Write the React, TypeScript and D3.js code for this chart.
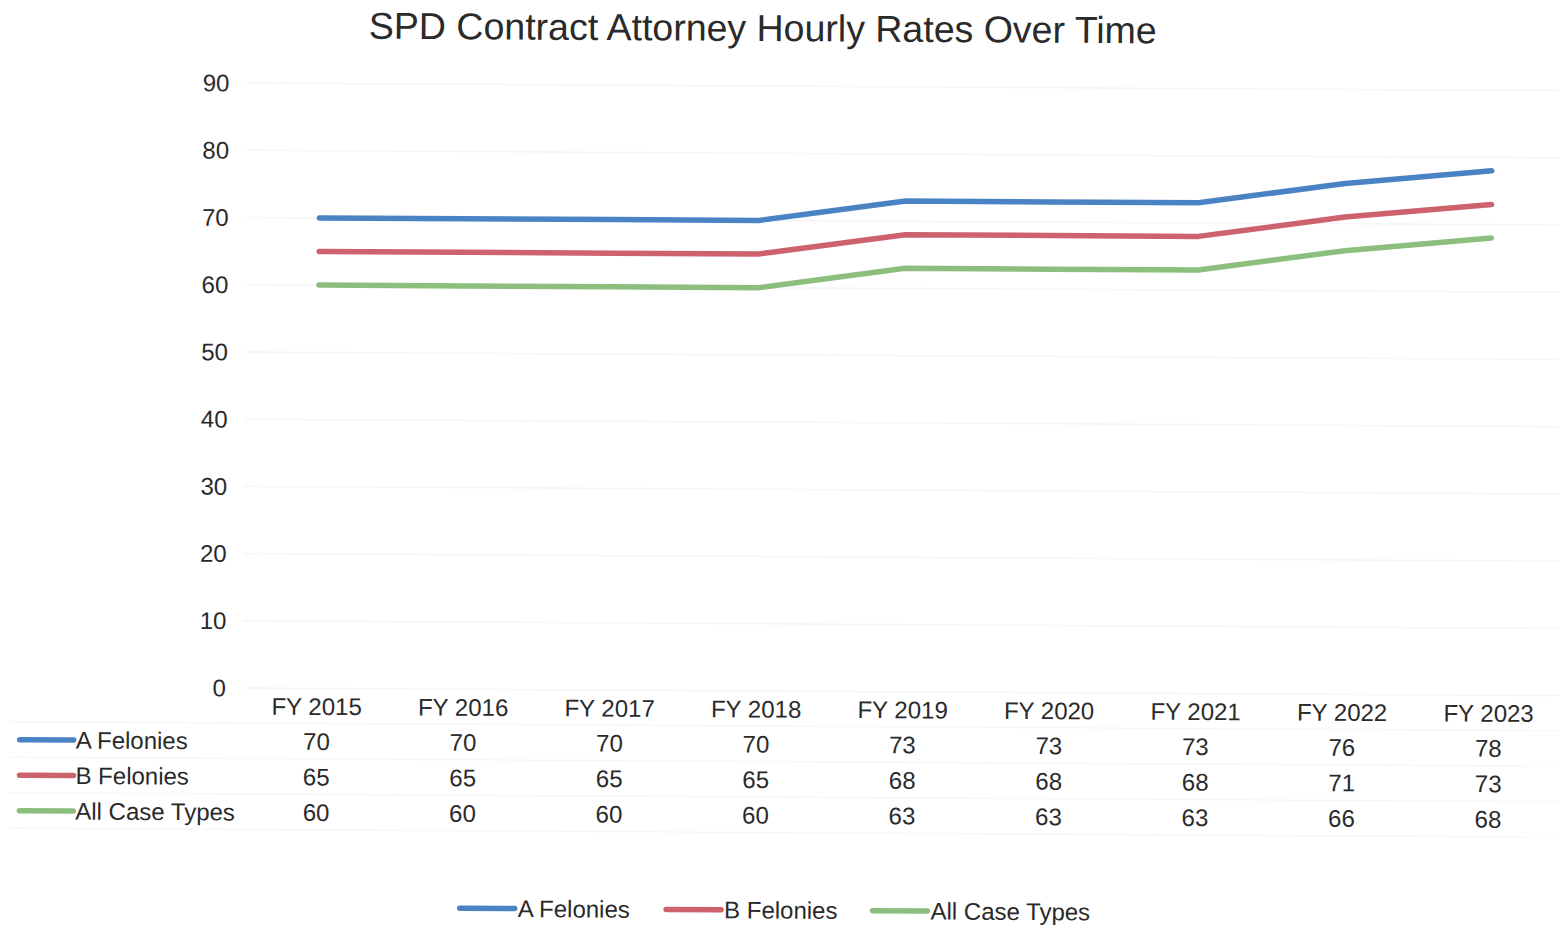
import * as d3 from 'd3';
import { useMemo } from 'react';

const years = ['FY 2015', 'FY 2016', 'FY 2017', 'FY 2018', 'FY 2019', 'FY 2020', 'FY 2021', 'FY 2022', 'FY 2023'];
const aFelonies = [70, 70, 70, 70, 73, 73, 73, 76, 78];
const bFelonies = [65, 65, 65, 65, 68, 68, 68, 71, 73];
const allCaseTypes = [60, 60, 60, 60, 63, 63, 63, 66, 68];
const yTicks = [0, 10, 20, 30, 40, 50, 60, 70, 80, 90];

const seriesList = [
  { name: 'A Felonies', values: aFelonies, color: '#4a83c3' },
  { name: 'B Felonies', values: bFelonies, color: '#cd626d' },
  { name: 'All Case Types', values: allCaseTypes, color: '#8cbf7e' },
];

const W = 1558;
const H = 925;
const FONT = '"Liberation Sans", Arial, sans-serif';

// measure text once with a canvas so the legend can be laid out from it
function textWidth(s: string, size: number) {
  const c = document.createElement('canvas').getContext('2d');
  if (!c) return s.length * size * 0.55;
  c.font = `${size}px "Liberation Sans", Arial`;
  return c.measureText(s).width;
}

export default function App() {
  const x = useMemo(
    () => d3.scaleBand().domain(years).range([243.5, 243.5 + 146.5 * years.length]),
    []
  );
  const y = useMemo(() => d3.scaleLinear().domain([0, 90]).range([688, 83]), []);

  const line = d3
    .line<number>()
    .x((_, i) => (x(years[i]) ?? 0) + x.bandwidth() / 2)
    .y((d) => y(d));

  // data table rows
  const headerY = 706;
  const rowY = (i: number) => 741 + i * 35.5;

  // bottom legend
  const keyLen = 57;
  const gap = 33;
  const legendItems = seriesList.map((s) => ({ ...s, w: keyLen + 3 + textWidth(s.name, 24) }));
  let lx = 460;
  const legendPos = legendItems.map((it) => {
    const p = lx;
    lx += it.w + gap;
    return p;
  });

  return (
    <svg
      width={W}
      height={H}
      style={{ position: 'absolute', left: 0, top: 0, background: '#fff' }}
      fontFamily={FONT}
    >
      <rect width={W} height={H} fill="#fff" />
      <g transform="rotate(0.33 243 688)">
        <text x={759} y={38} textAnchor="middle" fontSize={37.5} fill="#2a2a2a">
          SPD Contract Attorney Hourly Rates Over Time
        </text>

        {yTicks.map((t) => (
          <g key={t}>
            <line x1={243} x2={W + 20} y1={y(t)} y2={y(t)} stroke="#f5f5f5" strokeWidth={1.5} />
            <text x={226} y={y(t) + 8.5} textAnchor="end" fontSize={24} fill="#2a2a2a">
              {t}
            </text>
          </g>
        ))}

        {seriesList.map((s) => (
          <path
            key={s.name}
            d={line(s.values) ?? undefined}
            fill="none"
            stroke={s.color}
            strokeWidth={5.5}
            strokeLinecap="round"
            strokeLinejoin="round"
          />
        ))}

        {/* data table */}
        {[723, 758.5, 794, 829.5].map((ly) => (
          <line key={ly} x1={10} x2={W + 20} y1={ly} y2={ly} stroke="#f7f7f7" strokeWidth={1.5} />
        ))}
        {years.map((yr) => (
          <text
            key={yr}
            x={(x(yr) ?? 0) + x.bandwidth() / 2}
            y={headerY + 8.5}
            textAnchor="middle"
            fontSize={24}
            fill="#2a2a2a"
          >
            {yr}
          </text>
        ))}
        {seriesList.map((s, i) => (
          <g key={s.name}>
            <line x1={20} x2={74} y1={rowY(i)} y2={rowY(i)} stroke={s.color} strokeWidth={5.5} strokeLinecap="round" />
            <text x={76} y={rowY(i) + 8.5} fontSize={24} fill="#2a2a2a">
              {s.name}
            </text>
            {s.values.map((v, j) => (
              <text
                key={j}
                x={(x(years[j]) ?? 0) + x.bandwidth() / 2}
                y={rowY(i) + 8.5}
                textAnchor="middle"
                fontSize={24}
                fill="#2a2a2a"
              >
                {v}
              </text>
            ))}
          </g>
        ))}

        {/* legend */}
        {legendItems.map((it, i) => (
          <g key={it.name} transform={`translate(${legendPos[i]},907)`}>
            <line x1={1} x2={keyLen - 1} y1={0} y2={0} stroke={it.color} strokeWidth={5.5} strokeLinecap="round" />
            <text x={keyLen + 2} y={8.5} fontSize={24} fill="#2a2a2a">
              {it.name}
            </text>
          </g>
        ))}
      </g>
    </svg>
  );
}
